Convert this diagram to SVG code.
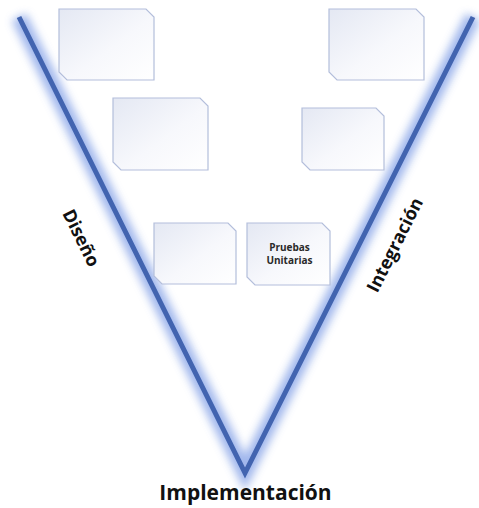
<svg xmlns="http://www.w3.org/2000/svg" width="479" height="508" viewBox="0 0 479 508">
  <defs>
    <linearGradient id="boxFill" x1="0" y1="0" x2="1" y2="1">
      <stop offset="0" stop-color="#e4e8f3"/>
      <stop offset="0.55" stop-color="#f7f8fc"/>
      <stop offset="1" stop-color="#ffffff"/>
    </linearGradient>
    <filter id="glow" x="-20%" y="-20%" width="140%" height="140%">
      <feGaussianBlur stdDeviation="4.5"/>
    </filter>
  </defs>
  <style>
    .box { fill: url(#boxFill); stroke: #b3bedb; stroke-width: 1.2; }
    .vglow { fill: none; stroke: #8aa6e8; stroke-width: 16; stroke-linejoin: miter; opacity: 0.8; }
    .vline { fill: none; stroke: #4264b0; stroke-width: 5; stroke-linejoin: miter; }
    .lbl { font-family: "Open Sans", "Liberation Sans", sans-serif; font-weight: bold; fill: #111; }
    .small { font-family: "Open Sans", "Liberation Sans", sans-serif; font-weight: bold; font-size: 10px; fill: #2a2a2a; text-anchor: middle; }
  </style>

  <!-- V shape -->
  <g id="connectors">
    <polyline class="vglow" filter="url(#glow)" points="19,17 245,473 473,17"/>
    <polyline class="vline" points="19,17 245,473 473,17"/>
  </g>

  <!-- boxes: clipped top-right and bottom-left corners -->
  <g id="box-left-1">
    <path class="box" d="M59,9 H146 L154,17 V80 H67 L59,72 Z"/>
  </g>
  <g id="box-left-2">
    <path class="box" d="M113,98 H200 L208,106 V170 H121 L113,162 Z"/>
  </g>
  <g id="box-left-3">
    <path class="box" d="M154,223 H228 L236,231 V284 H162 L154,276 Z"/>
  </g>
  <g id="box-right-1">
    <path class="box" d="M329,9 H416 L424,17 V80 H337 L329,72 Z"/>
  </g>
  <g id="box-right-2">
    <path class="box" d="M302,108 H376 L384,116 V170 H310 L302,162 Z"/>
  </g>
  <g id="box-pruebas">
    <path class="box" d="M247,223 H322 L330,231 V285 H255 L247,277 Z"/>
    <text class="small" x="289.5" y="251">Pruebas</text>
    <text class="small" x="289.5" y="264">Unitarias</text>
  </g>

  <!-- phase labels -->
  <g id="label-diseno">
    <text class="lbl" font-size="18" text-anchor="middle" transform="translate(81,238) rotate(63.6)" dy="6">Diseño</text>
  </g>
  <g id="label-integracion">
    <text class="lbl" font-size="18" text-anchor="middle" transform="translate(395,245) rotate(-63.4)" dy="6">Integración</text>
  </g>
  <g id="label-implementacion">
    <text class="lbl" font-size="21" text-anchor="middle" x="245.5" y="500">Implementación</text>
  </g>
</svg>
